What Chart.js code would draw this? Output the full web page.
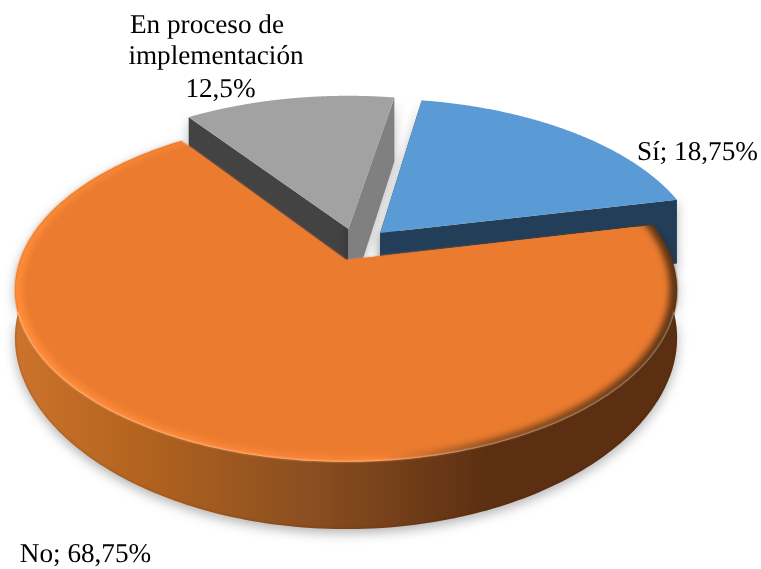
<!DOCTYPE html>
<html><head><meta charset="utf-8">
<style>html,body{margin:0;padding:0;background:#fff}canvas{display:block}</style>
<script src="https://cdn.jsdelivr.net/npm/chart.js@4"></script>
</head><body><canvas id="c" width="761" height="569"></canvas>
<script>
const categories = ["Sí", "No", "En proceso de implementación"];
const values = [18.75, 68.75, 12.5];
const sliceColors = ["#5B9BD5", "#EA7B2F", "#A2A2A2"];
const startRotation = 9.85;

const view = {cx:346, cy:260, a:166.5, b:326, p:0.175};
const explode = [[0.108,-0.167],[0,0],[0.008,-0.192]];
const depth = [68, 55.5, 77];
const labelCss = '27.2px "Liberation Serif"';

function pr(u,v,z){ const w=1-view.p*v; return [view.cx+view.b*u/w, view.cy+(view.a*v+z)/w]; }
function pt(i,ang,r,z){ const e=explode[i]; return pr(e[0]+r*Math.cos(ang), e[1]+r*Math.sin(ang), z); }
function poly(ctx,pts){ ctx.beginPath(); pts.forEach((q,k)=>k?ctx.lineTo(q[0],q[1]):ctx.moveTo(q[0],q[1])); ctx.closePath(); }
function arcPts(i,s,e,r,zf){ const o=[]; const n=240; for(let k=0;k<=n;k++){ const t=s+(e-s)*k/n; o.push(pt(i,t,r,zf?zf(t):0)); } return o; }
function wedge(i,s,e,r){ const c=pt(i,0,0,0); return [c].concat(arcPts(i,s,e,r)); }

const pie3d = {
  id:'pie3d',
  beforeDatasetsDraw(chart){
    const ctx=chart.ctx, arcs=chart.getDatasetMeta(0).data;
    ctx.save();
    [2,0].forEach(i=>{
      const el=arcs[i], s=el.startAngle, e=el.endAngle, D=depth[i], col=el.options.backgroundColor;
      const A=pt(i,0,0,0), Ab=pt(i,0,0,D);
      const S=pt(i,s,1,0), Sb=pt(i,s,1,D), E=pt(i,e,1,0), Eb=pt(i,e,1,D);
      ctx.save();
      ctx.shadowColor='rgba(0,0,0,0.28)'; ctx.shadowBlur=12; ctx.shadowOffsetY=3;
      poly(ctx,[A,S,Sb,Ab]); ctx.fillStyle= i===2 ? '#434343' : '#233E58'; ctx.fill();
      poly(ctx,[A,E,Eb,Ab]); ctx.fillStyle= i===2 ? '#808080' : '#233E58'; ctx.fill();
      ctx.restore();
      poly(ctx,wedge(i,s,e,1)); ctx.fillStyle=col; ctx.fill();
    });
    const el=arcs[1], s=el.startAngle, e=el.endAngle, D=depth[1];
    const zf=t=>{const v=Math.sin(t); return D*(0.83+0.17*v*v);};
    const top=arcPts(1,s,e,1), bot=arcPts(1,s,e,1,zf).reverse();
    const wall=ctx.createLinearGradient(17,0,672,0);
    wall.addColorStop(0,'#CB732C'); wall.addColorStop(0.18,'#B4641F');
    wall.addColorStop(0.45,'#8A4E20'); wall.addColorStop(0.72,'#5C2F12'); wall.addColorStop(1,'#5C2F12');
    ctx.save();
    ctx.shadowColor='rgba(0,0,0,0.30)'; ctx.shadowBlur=12; ctx.shadowOffsetY=4;
    poly(ctx,top.concat(bot)); ctx.fillStyle=wall; ctx.fill();
    ctx.restore();
    ctx.save();
    poly(ctx,top.concat(bot)); ctx.clip();
    ctx.filter='blur(1px)'; ctx.lineWidth=1.5; ctx.strokeStyle='rgba(60,25,5,0.22)';
    ctx.beginPath(); bot.forEach((q,k)=>k?ctx.lineTo(q[0],q[1]):ctx.moveTo(q[0],q[1])); ctx.stroke();
    ctx.restore();
    const rim=ctx.createLinearGradient(17,0,672,0);
    rim.addColorStop(0,'#FF8C3A'); rim.addColorStop(0.55,'#FB8636');
    rim.addColorStop(0.72,'#8A4D1E'); rim.addColorStop(1,'#5F3414');
    ctx.save();
    ctx.filter='blur(1px)';
    poly(ctx,wedge(1,s,e,1)); ctx.fillStyle=rim; ctx.fill();
    ctx.filter='none';
    poly(ctx,wedge(1,s,e,1)); ctx.clip();
    ctx.filter='blur(3px)';
    poly(ctx,wedge(1,s-0.05,e+0.05,0.978)); ctx.fillStyle=el.options.backgroundColor; ctx.fill();
    ctx.restore();
    ctx.save();
    ctx.fillStyle=el.options.backgroundColor;
    poly(ctx,wedge(1,s,e,0.94)); ctx.fill();
    ctx.restore();
    ctx.fillStyle='#000'; ctx.font=labelCss; ctx.textBaseline='alphabetic'; ctx.textAlign='center';
    if('textRendering' in ctx) ctx.textRendering='geometricPrecision';
    const fmt=v=>String(v).replace('.',',')+'%';
    ctx.fillText('En proceso de',207,33);
    ctx.fillText('implementación',216,64);
    ctx.fillText(fmt(values[2]),220.5,97);
    ctx.fillText(categories[0]+'; '+fmt(values[0]),697.5,160);
    ctx.fillText(categories[1]+'; '+fmt(values[1]),85.5,562);
    ctx.restore();
    return false;
  }
};

new Chart(document.getElementById('c'),{
  type:'pie',
  data:{labels:categories,datasets:[{data:values,backgroundColor:sliceColors,borderWidth:0}]},
  options:{responsive:false,animation:false,rotation:startRotation,
    plugins:{legend:{display:false},tooltip:{enabled:false}}},
  plugins:[pie3d]
});
</script></body></html>
